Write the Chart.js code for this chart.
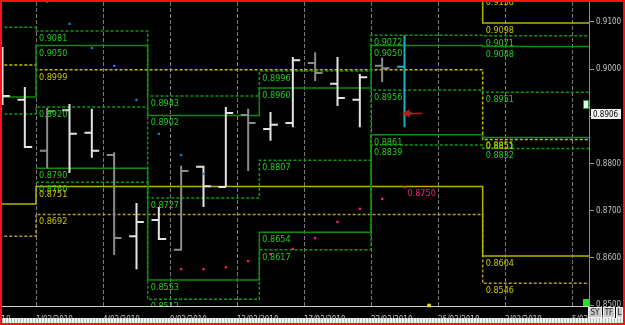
<!DOCTYPE html>
<html>
<head>
<meta charset="utf-8">
<title>Diario</title>
<script src="https://cdn.jsdelivr.net/npm/chart.js@4.4.1/dist/chart.umd.min.js"></script>
<style>
  html, body { margin: 0; padding: 0; background: #000; }
  #frame { position: relative; width: 625px; height: 325px; box-sizing: border-box;
           border: 2px solid #ff1010; background: #000; overflow: hidden; }
  #box { position: absolute; left: 0; top: 0; width: 621px; height: 316px; }
  #strip { position: absolute; left: 0; top: 316px; width: 621px; height: 5px;
           background: repeating-linear-gradient(90deg, #b8b8b8 0 1px, #f0f0f0 1px 3px); }
  .btn { position: absolute; top: 305px; height: 11px; box-sizing: border-box;
         background: #c8c8c8; color: #202020; border: 1px solid #f4f4f4;
         font: 8px "DejaVu Sans Condensed", sans-serif; line-height: 9px; text-align: center; }
  #shift { position: absolute; left: 581px; top: 98px; width: 6px; height: 9px; box-sizing: border-box;
           background: #f0f0f0; border: 1px solid #20a020; }
  #mark { position: absolute; left: 581px; top: 297px; width: 6px; height: 7px; background: #22e022; }
</style>
</head>
<body>
<div id="frame">
  <div id="box"><canvas id="grafico"></canvas></div>
  <div id="strip"></div>
  <div id="shift"></div>
  <div id="mark"></div>
  <div class="btn" style="left:586px;width:14px">SY</div>
  <div class="btn" style="left:601px;width:12px">TF</div>
  <div class="btn" style="left:614px;width:7px">L</div>
</div>
<script>
// ------------------ datos ------------------

// eje x: indice de dia de mercado (0 = 27/01/2010)
const xTickDays = [0, 3, 6, 9, 12, 15, 18, 21, 24, 27];
const xTickLabels = ["27/01/2010", "1/02/2010", "4/02/2010", "9/02/2010", "12/02/2010",
    "17/02/2010", "22/02/2010", "25/02/2010", "2/03/2010", "5/03/2010"];
const yTicks = [0.85, 0.86, 0.87, 0.88, 0.89, 0.90, 0.91];

// barras OHLC diarias
const barDays  = [1, 2, 3, 4, 5, 6, 7, 8, 9, 10, 11, 12, 13, 14, 15, 16, 17, 18, 19];
const barOpen  = [0.9019, 0.8935, 0.8827, 0.8913, 0.8865, 0.8818, 0.8646, 0.8680, 0.8617, 0.8793,
    0.8750, 0.8903, 0.8873, 0.8886, 0.9013, 0.8969, 0.8935, 0.9007, 0.9005];
const barHigh  = [0.9047, 0.8962, 0.8918, 0.8926, 0.8916, 0.8824, 0.8716, 0.8708, 0.8795, 0.8795,
    0.8920, 0.8916, 0.8909, 0.9026, 0.9036, 0.9026, 0.8990, 0.9024, 0.9072];
const barLow   = [0.8924, 0.8833, 0.8790, 0.8780, 0.8812, 0.8606, 0.8576, 0.8638, 0.8615, 0.8708,
    0.8750, 0.8784, 0.8848, 0.8877, 0.8975, 0.8922, 0.8877, 0.8973, 0.8877];
const barClose = [0.8943, 0.8835, 0.8911, 0.8863, 0.8827, 0.8642, 0.8676, 0.8640, 0.8784, 0.8752,
    0.8907, 0.8886, 0.8882, 0.9019, 0.8992, 0.8939, 0.8983, 0.9002, 0.8906];

// puntos SAR
const sarUpDays = [3, 4, 5, 6, 7, 8, 9, 10];
const sarUp = [0.9143, 0.9096, 0.9045, 0.9007, 0.8935, 0.8863, 0.8818, 0.8778];
const sarDownDays = [9, 10, 11, 12, 13, 14, 15, 16, 17, 18, 19];
const sarDown = [0.8576, 0.8576, 0.8580, 0.8593, 0.8608, 0.8619, 0.8642, 0.8676, 0.8704, 0.8725, 0.8750];

// niveles semanales (inicio de cada semana + fin)
const weekStarts = [-2, 3, 8, 13, 18, 23, 28];
const weekLevel1 = [0.9089, 0.9081, 0.8943, 0.8996, 0.9072, 0.9071];
const weekLevel2 = [0.8941, 0.9050, 0.8902, 0.8960, 0.9050, 0.9048];
const weekLevel3 = [0.8905, 0.8920, 0.8727, 0.8807, 0.8956, 0.8951];
const weekLevel4 = [null, 0.8790, 0.8553, 0.8654, 0.8861, 0.8855];
const weekLevel5 = [null, 0.8760, 0.8512, 0.8617, 0.8839, 0.8832];

// niveles mensuales (enero, febrero, marzo + fin)
const monthStarts = [-17, 3, 23, 28];
const monthLevel1 = [0.9400, 0.9350, 0.9158];
const monthLevel2 = [0.9300, 0.9250, 0.9098];
const monthLevel3 = [0.9009, 0.8999, 0.8851];
const monthLevel4 = [0.8714, 0.8751, 0.8604];
const monthLevel5 = [0.8646, 0.8692, 0.8546];

const lastPrice = 0.8906;
const lastDay = 19;
const axisMark = 20.6;

// ------------------ helpers ------------------

function stepLine(starts, values) {
    const pts = values.map((v, i) => ({ x: starts[i], y: v }));
    pts.push({ x: starts[values.length], y: values[values.length - 1] });
    return pts;
}

function levelSet(starts, values, color, dashed) {
    return {
        type: "line",
        data: stepLine(starts, values),
        borderColor: color,
        borderWidth: 1.5,
        borderDash: dashed ? [3, 2] : [],
        stepped: "before",
        pointRadius: 0,
        pointHoverRadius: 0,
        spanGaps: false,
        order: 10,
    };
}

// tono de la barra: gris la que abre cada tramo de la rejilla, cian la ultima
function barTone(d) {
    if (d === lastDay) return "cyan";
    return d % 3 === 0 ? "grey" : "white";
}

function barPath(tone) {
    const pts = [];
    barDays.forEach((d, i) => {
        if (barTone(d) !== tone) return;
        const c = d + 0.5;
        pts.push({ x: c, y: barLow[i] }, { x: c, y: barHigh[i] }, { x: c, y: null });
        pts.push({ x: c - 0.33, y: barOpen[i] }, { x: c, y: barOpen[i] }, { x: c, y: null });
        pts.push({ x: c, y: barClose[i] }, { x: c + 0.33, y: barClose[i] }, { x: c, y: null });
    });
    return pts;
}

function barSet(tone, color) {
    return {
        type: "line", data: barPath(tone), borderColor: color, borderWidth: 2,
        pointRadius: 0, pointHoverRadius: 0, spanGaps: false, order: 2,
    };
}

const labelGroups = [
    { starts: weekStarts, values: [weekLevel1, weekLevel2, weekLevel3, weekLevel4, weekLevel5], color: "#22cc22" },
    { starts: monthStarts, values: [monthLevel1, monthLevel2, monthLevel3, monthLevel4, monthLevel5], color: "#c8c800" },
];

// ------------------ plugins ------------------

const gridLines = {
    id: "gridLines",
    beforeDatasetsDraw(chart) {
        const { ctx, chartArea, scales: { x } } = chart;
        ctx.save();
        ctx.strokeStyle = "#7a7a7a";
        ctx.lineWidth = 1;
        ctx.setLineDash([4, 2]);
        xTickDays.forEach((d) => {
            const px = Math.round(x.getPixelForValue(d)) + 0.5;
            if (px < chartArea.left || px > chartArea.right) return;
            ctx.beginPath();
            ctx.moveTo(px, chartArea.top);
            ctx.lineTo(px, chartArea.bottom);
            ctx.stroke();
        });
        ctx.restore();
    },
};

const levelLabels = {
    id: "levelLabels",
    afterDatasetsDraw(chart) {
        const { ctx, chartArea, scales: { x, y } } = chart;
        ctx.save();
        ctx.beginPath();
        ctx.rect(chartArea.left, chartArea.top, chartArea.width, chartArea.height);
        ctx.clip();
        ctx.font = '9px "DejaVu Sans Condensed", sans-serif';
        ctx.textAlign = "left";
        ctx.textBaseline = "alphabetic";
        labelGroups.forEach((g) => {
            ctx.fillStyle = g.color;
            g.values.forEach((serie) => {
                serie.forEach((v, i) => {
                    if (v === null) return;
                    ctx.fillText(v.toFixed(4), x.getPixelForValue(g.starts[i]) + 3, y.getPixelForValue(v) + 10);
                });
            });
        });
        // etiqueta del SAR
        const lastSar = sarDown[sarDown.length - 1];
        ctx.fillStyle = "#e8207a";
        ctx.fillText(lastSar.toFixed(4), x.getPixelForValue(sarDownDays[sarDownDays.length - 1] + 0.5) + 3,
            y.getPixelForValue(lastSar) + 9);
        ctx.restore();

        // precio actual en el eje
        const py = Math.round(y.getPixelForValue(lastPrice));
        ctx.save();
        ctx.fillStyle = "#f4f4f4";
        ctx.fillRect(chartArea.right + 2, py - 5, 30, 10);
        ctx.fillStyle = "#000";
        ctx.font = '8px "DejaVu Sans Condensed", sans-serif';
        ctx.textBaseline = "middle";
        ctx.fillText(lastPrice.toFixed(4), chartArea.right + 4, py + 0.5);
        ctx.restore();
    },
};

// ------------------ grafico ------------------

const datasets = [
    levelSet(weekStarts, weekLevel1, "#0a9a0a", true),
    levelSet(weekStarts, weekLevel2, "#0c8c0c", false),
    levelSet(weekStarts, weekLevel3, "#0a9a0a", true),
    levelSet(weekStarts, weekLevel4, "#0c8c0c", false),
    levelSet(weekStarts, weekLevel5, "#0a9a0a", true),
    levelSet(monthStarts, monthLevel1, "#b8a800", true),
    levelSet(monthStarts, monthLevel2, "#b4b400", false),
    levelSet(monthStarts, monthLevel3, "#c8c000", true),
    levelSet(monthStarts, monthLevel4, "#b4b400", false),
    levelSet(monthStarts, monthLevel5, "#b09a30", true),
    barSet("grey", "#8c8c8c"),
    barSet("white", "#e4e4e4"),
    barSet("cyan", "#1fb0c4"),
    {
        type: "scatter", data: sarUpDays.map((d, i) => ({ x: d + 0.5, y: sarUp[i] })),
        pointStyle: "rect", pointRadius: 1.6, pointHoverRadius: 0, backgroundColor: "#1e7fd0", borderWidth: 0, order: 1,
    },
    {
        type: "scatter", data: sarDownDays.map((d, i) => ({ x: d + 0.5, y: sarDown[i] })),
        pointStyle: "rect", pointRadius: 1.6, pointHoverRadius: 0, backgroundColor: "#ff1a8c", borderWidth: 0, order: 1,
    },
    {
        type: "line",
        data: [{ x: lastDay + 0.62, y: lastPrice }, { x: lastDay + 1.3, y: lastPrice }],
        borderColor: "#c81414", borderWidth: 1.5, backgroundColor: "#c81414",
        pointStyle: "triangle", pointRadius: [3.5, 0], pointHoverRadius: 0, rotation: -90, order: 0,
    },
    {
        type: "scatter", data: [{ x: axisMark, y: 0.8499 }],
        pointStyle: "rect", pointRadius: 2.5, pointHoverRadius: 0, backgroundColor: "#f0e020", borderWidth: 0,
        clip: false, order: 0,
    },
];

new Chart(document.getElementById("grafico"), {
    type: "line",
    data: { datasets },
    options: {
        responsive: true,
        maintainAspectRatio: false,
        animation: false,
        layout: { padding: 0, autoPadding: false },
        plugins: { legend: { display: false }, tooltip: { enabled: false } },
        scales: {
            x: {
                type: "linear",
                min: 1.478,
                max: 27.761,
                afterBuildTicks: (s) => { s.ticks = xTickDays.map((v) => ({ value: v })); },
                afterFit: (s) => { s.height = 12; s.paddingLeft = 0; s.paddingRight = 0; },
                grid: { display: false },
                border: { display: true, color: "#d0d0d0", width: 1 },
                ticks: {
                    autoSkip: false, maxRotation: 0, align: "start", padding: 1,
                    color: "#c4c4c4",
                    font: { family: "DejaVu Sans Condensed", size: 8 },
                    callback: (v) => xTickLabels[xTickDays.indexOf(v)],
                },
            },
            y: {
                type: "linear",
                position: "right",
                min: 0.849788,
                max: 0.91424,
                afterBuildTicks: (s) => { s.ticks = yTicks.map((v) => ({ value: v })); },
                afterFit: (s) => { s.width = 34; s.paddingTop = 0; s.paddingBottom = 0; },
                grid: { drawOnChartArea: false, drawTicks: true, tickLength: 5, color: "#9a9a9a" },
                border: { display: true, color: "#8a8a8a", width: 1 },
                ticks: {
                    padding: 2, color: "#c4c4c4",
                    font: { family: "DejaVu Sans Condensed", size: 8 },
                    callback: (v) => (v === 0.89 ? "" : v.toFixed(4)),
                },
            },
        },
    },
    plugins: [gridLines, levelLabels],
});
</script>
</body>
</html>
